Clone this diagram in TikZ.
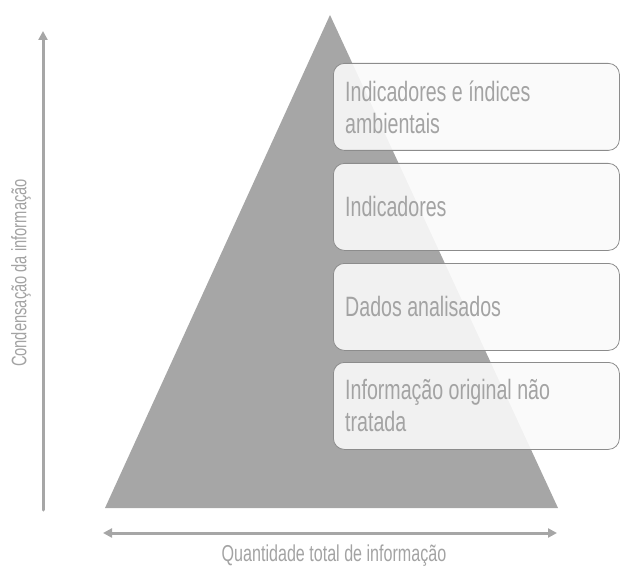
\documentclass[tikz,border=0pt]{standalone}
\usepackage{fontspec}
\newfontfamily\pyfont[FakeStretch=0.7]{Liberation Sans}
\usetikzlibrary{arrows.meta}
\definecolor{pygray}{HTML}{A6A6A6}
\definecolor{pytext}{HTML}{A3A3A3}
\definecolor{pyedge}{HTML}{8C8C8C}
\tikzset{
  py pyramid/.style={
    x=1pt,
    y=-1pt,
    line cap=round,
    line join=round
  },
  py level/.style={
    draw=pyedge,
    line width=0.8pt,
    fill=gray!4,
    fill opacity=0.9,
    text opacity=1,
    rounded corners=11pt,
    minimum width=286pt,
    minimum height=87pt,
    anchor=north west,
    inner sep=0pt
  },
  py label/.style={
    font=\pyfont\fontsize{28}{32}\selectfont,
    text=pytext,
    align=left,
    anchor=west,
    inner sep=0pt
  },
  py axis/.style={
    draw=pygray,
    line width=3pt,
    -{Triangle[length=9pt,width=9pt]}
  },
  py caption/.style={
    font=\pyfont\fontsize{23}{26}\selectfont,
    text=pytext,
    inner sep=0pt
  }
}
\begin{document}
\begin{tikzpicture}[py pyramid]
  \useasboundingbox (0,0) rectangle (620,569);

  % pyramid
  \coordinate (apex) at (330,15);
  \coordinate (left base) at (105,508);
  \coordinate (right base) at (558,508);
  \fill[pygray] (apex) -- (left base) -- (right base) -- cycle;

  % levels
  \node[py level] (top) at (333,63) {};
  \node[py level] (upper) at (333,163) {};
  \node[py level] (lower) at (333,263) {};
  \node[py level] (bottom) at (333,362) {};
  \node[py label] at ([xshift=12pt]top.west) {Indicadores e índices\\ambientais};
  \node[py label] at ([xshift=12pt]upper.west) {Indicadores};
  \node[py label] at ([xshift=12pt]lower.west) {Dados analisados};
  \node[py label] at ([xshift=12pt]bottom.west) {Informação original não\\tratada};

  % axes
  \coordinate (v start) at (43,510);
  \coordinate (v end) at (43,31);
  \draw[py axis] (v start) -- (v end);
  \coordinate (h start) at (103,533);
  \coordinate (h end) at (557,533);
  \draw[py axis,{Triangle[length=9pt,width=9pt]}-{Triangle[length=9pt,width=9pt]}] (h start) -- (h end);
  \node[py caption,rotate=90,font=\pyfont\fontsize{21}{24}\selectfont] (condensation) at (21,273) {Condensação da informação};
  \node[py caption] (quantity) at (334,556) {Quantidade total de informação};

\end{tikzpicture}
\end{document}
